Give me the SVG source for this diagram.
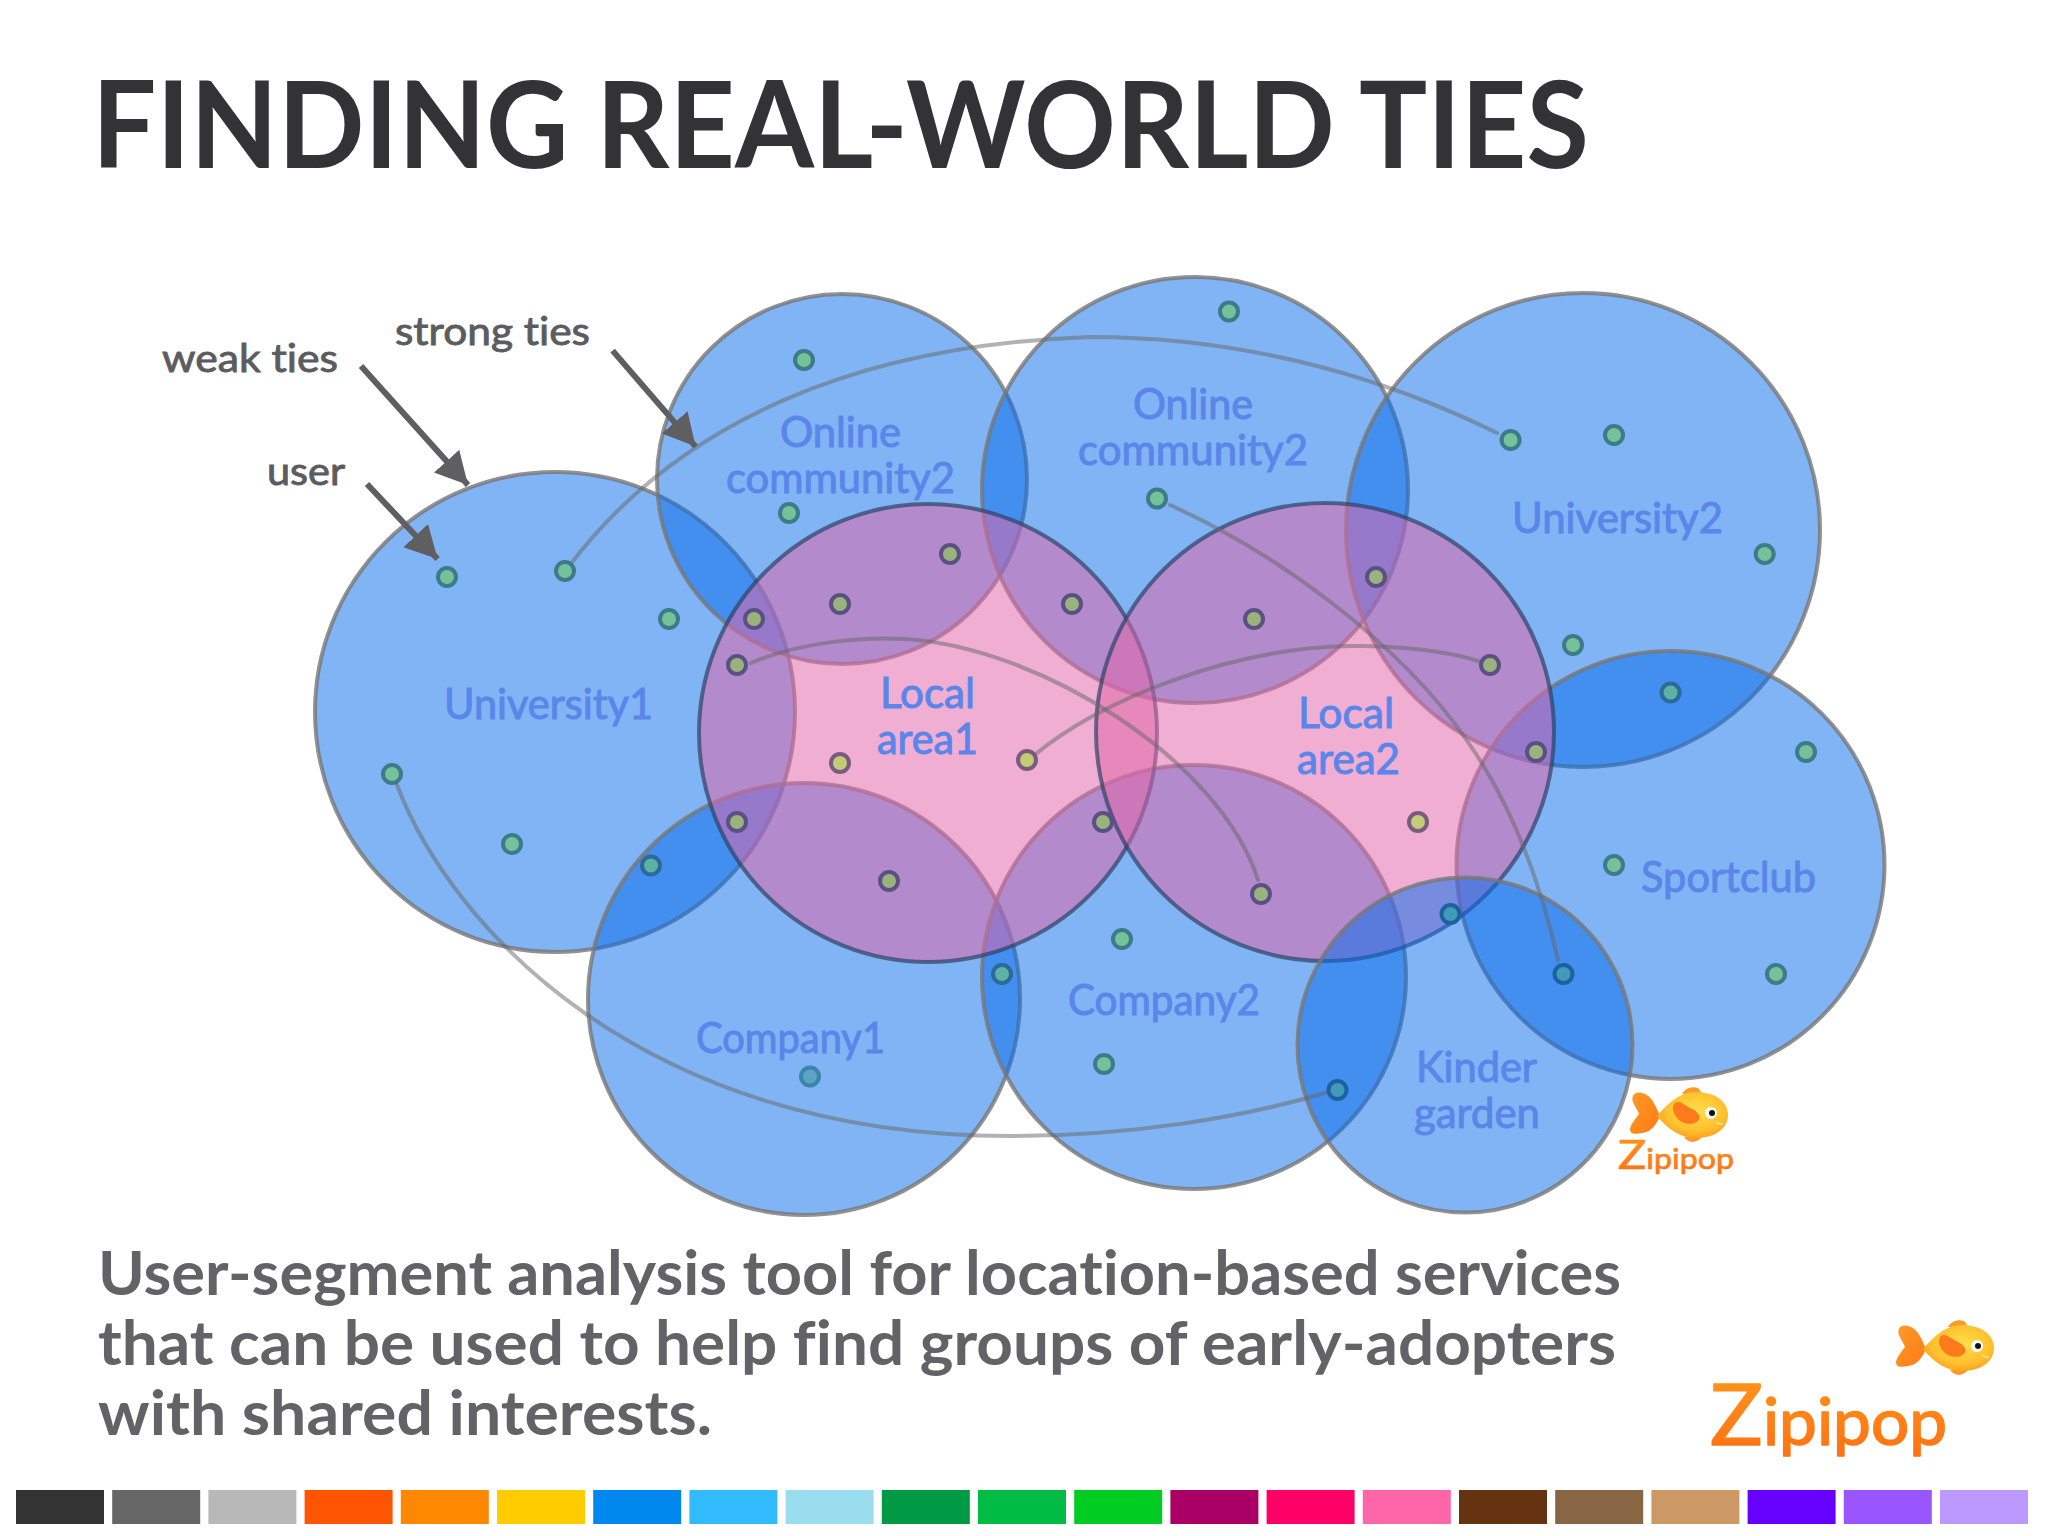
<svg xmlns="http://www.w3.org/2000/svg" width="2048" height="1536" viewBox="0 0 2048 1536">
<style>
text{font-family:"Lato","Open Sans","Liberation Sans",sans-serif;font-variant-ligatures:none}
.title{font-size:120px;font-weight:700;fill:#333336}
.body{font-size:61px;font-weight:700;fill:#636367}
.note{font-size:39px;font-weight:400;fill:#5c5c60;stroke:#5c5c60;stroke-width:.9}
.lab{font-size:42px;font-weight:400;fill:#5a86ea;stroke:#5a86ea;stroke-width:1}
.blue{fill:#066ceb;fill-opacity:.51;stroke:#777;stroke-opacity:.8;stroke-width:4}
.pink{fill:#e166aa;fill-opacity:.53;stroke:#2a4060;stroke-opacity:.68;stroke-width:4}
.tie{fill:none;stroke:#666;stroke-opacity:.5;stroke-width:4;stroke-linecap:round}
.ptr{fill:none;stroke:#5f5f62;stroke-width:6;marker-end:url(#head)}
.u{stroke-width:4}
.s{fill:#74c29a;stroke:#3d7a8a}
.d{fill:#5cb3a4;stroke:#2d6a9a}
.kd{fill:#3f9bb8;stroke:#1f60a0}
.c1{fill:#5ca3c4;stroke:#3a86aa}
.p{fill:#9ab27c;stroke:#5a5084}
.k{fill:#c2cb76;stroke:#7a5a80}
.brand{fill:url(#logoText);font-weight:400;stroke:url(#logoText);stroke-linejoin:round}
</style>
<defs>
<marker id="head" markerUnits="userSpaceOnUse" markerWidth="36" markerHeight="34" refX="32" refY="17" orient="auto">
<path d="M0 0L32 17L0 34Z" fill="#5f5f62"/>
</marker>
<linearGradient id="logoText" x1="0" y1="0" x2="0" y2="1"><stop offset="0" stop-color="#ff9a1c"/><stop offset="1" stop-color="#ff6f12"/></linearGradient>
<radialGradient id="fishBody" cx=".55" cy=".42" r=".6"><stop offset="0" stop-color="#ffe04a"/><stop offset=".7" stop-color="#ffc02e"/><stop offset="1" stop-color="#ff9f1e"/></radialGradient>
<linearGradient id="fishTail" x1="0" y1="0" x2="1" y2="1"><stop offset="0" stop-color="#ff9a28"/><stop offset="1" stop-color="#ff7a14"/></linearGradient>
<g id="fish">
<path d="M30 29C26 20 22 8 12 6C4 4 1 10 3 15C5 20 8 24 9 27C6 31 1 37 0 42C0 48 6 47 12 46C22 45 27 36 30 29Z" fill="url(#fishTail)"/>
<path d="M52 7C55 1 62-1 68 1C70 3 71 5 72 7Z" fill="#ff9a2a"/>
<path d="M54 50C58 56 66 57 72 50Z" fill="#ff9a2a"/>
<path d="M27 29C38 16 50 5 66 5C84 5 98 14 98 28C98 42 84 51 66 51C50 51 38 42 27 29Z" fill="url(#fishBody)"/>
<path d="M44 17C48 12 54 18 60 21C68 24 72 30 68 34C62 39 52 37 47 31C43 26 42 21 44 17Z" fill="#ff7a1a"/>
<circle cx="81" cy="26" r="6" fill="#fff"/><circle cx="82" cy="26" r="3" fill="#111"/>
<path d="M86 35Q90 38 93 37" fill="none" stroke="#ffe9a0" stroke-width="1.5"/>
</g>
</defs>
<rect width="2048" height="1536" fill="#fff"/>
<text class="title" x="92" y="168" textLength="1497" lengthAdjust="spacingAndGlyphs">FINDING REAL-WORLD TIES</text>

<g id="university1"><circle class="blue" cx="555" cy="712" r="240"/><text class="lab" x="444" y="719" textLength="209" lengthAdjust="spacingAndGlyphs">University1</text></g>
<g id="online-community-a"><circle class="blue" cx="842" cy="479" r="185"/><text class="lab" x="780" y="447" textLength="121" lengthAdjust="spacingAndGlyphs">Online</text><text class="lab" x="726" y="493" textLength="229" lengthAdjust="spacingAndGlyphs">community2</text></g>
<g id="online-community-b"><circle class="blue" cx="1195" cy="490" r="213"/><text class="lab" x="1133" y="419" textLength="120" lengthAdjust="spacingAndGlyphs">Online</text><text class="lab" x="1078" y="465" textLength="230" lengthAdjust="spacingAndGlyphs">community2</text></g>
<g id="university2"><circle class="blue" cx="1583" cy="530" r="237"/><text class="lab" x="1512" y="533" textLength="211" lengthAdjust="spacingAndGlyphs">University2</text></g>
<g id="company1"><circle class="blue" cx="804" cy="999" r="216"/><text class="lab" x="696" y="1053" textLength="189" lengthAdjust="spacingAndGlyphs">Company1</text></g>
<g id="company2"><circle class="blue" cx="1194" cy="977" r="212"/><text class="lab" x="1068" y="1015" textLength="192" lengthAdjust="spacingAndGlyphs">Company2</text></g>
<g id="sportclub"><circle class="blue" cx="1670.5" cy="865" r="214"/><text class="lab" x="1641" y="892" textLength="175" lengthAdjust="spacingAndGlyphs">Sportclub</text></g>
<g id="local-area1"><circle class="pink" cx="928" cy="733" r="229"/><text class="lab" x="880" y="708" textLength="95" lengthAdjust="spacingAndGlyphs">Local</text><text class="lab" x="877" y="754" textLength="101" lengthAdjust="spacingAndGlyphs">area1</text></g>
<g id="local-area2"><circle class="pink" cx="1325" cy="732" r="229"/><text class="lab" x="1298" y="728" textLength="96" lengthAdjust="spacingAndGlyphs">Local</text><text class="lab" x="1297" y="774" textLength="103" lengthAdjust="spacingAndGlyphs">area2</text></g>
<g id="kinder-garden"><circle class="blue" cx="1465" cy="1045" r="167.5"/><text class="lab" x="1416" y="1082" textLength="121" lengthAdjust="spacingAndGlyphs">Kinder</text><text class="lab" x="1414" y="1128" textLength="126" lengthAdjust="spacingAndGlyphs">garden</text></g>

<g id="connectors">
<path class="tie" d="M570 565C680 420 860 345 1090 337C1260 337 1400 385 1497 433"/>
<path class="tie" d="M397 785C450 925 640 1136 1010 1136C1130 1136 1240 1118 1325 1093"/>
<path class="tie" d="M751 663C800 642 860 637 905 639C1040 647 1220 760 1258 880"/>
<path class="tie" d="M1032 757C1100 700 1230 648 1350 646C1400 645 1450 652 1478 661"/>
<path class="tie" d="M1170 505C1270 550 1400 640 1470 745C1515 810 1542 890 1558 960"/>
<path class="ptr" d="M367 484L437.6 559"/>
<path class="ptr" d="M361 366L468 485"/>
<path class="ptr" d="M612.6 350.6L695.6 446.6"/>
</g>

<g id="users">
<g id="u01"><circle class="u s" cx="447" cy="577" r="9"/></g>
<g id="u02"><circle class="u s" cx="565" cy="571" r="9"/></g>
<g id="u03"><circle class="u s" cx="669" cy="619" r="9"/></g>
<g id="u04"><circle class="u p" cx="754" cy="619" r="9"/></g>
<g id="u05"><circle class="u p" cx="737" cy="665" r="9"/></g>
<g id="u06"><circle class="u s" cx="804" cy="360" r="9"/></g>
<g id="u07"><circle class="u s" cx="789" cy="513" r="9"/></g>
<g id="u08"><circle class="u p" cx="950" cy="554" r="9"/></g>
<g id="u09"><circle class="u p" cx="840" cy="604" r="9"/></g>
<g id="u10"><circle class="u k" cx="840" cy="763" r="9"/></g>
<g id="u11"><circle class="u s" cx="392" cy="774" r="9"/></g>
<g id="u12"><circle class="u s" cx="1229" cy="311.5" r="9"/></g>
<g id="u13"><circle class="u s" cx="1510.6" cy="440" r="9"/></g>
<g id="u14"><circle class="u s" cx="1614" cy="435" r="9"/></g>
<g id="u15"><circle class="u s" cx="1157" cy="498.5" r="9"/></g>
<g id="u16"><circle class="u s" cx="1764.7" cy="554" r="9"/></g>
<g id="u17"><circle class="u p" cx="1376" cy="577" r="9"/></g>
<g id="u18"><circle class="u p" cx="1072" cy="604" r="9"/></g>
<g id="u19"><circle class="u p" cx="1254" cy="619" r="9"/></g>
<g id="u20"><circle class="u s" cx="1573" cy="645" r="9"/></g>
<g id="u21"><circle class="u p" cx="1490" cy="665" r="9"/></g>
<g id="u22"><circle class="u d" cx="1670.6" cy="692.5" r="9"/></g>
<g id="u23"><circle class="u s" cx="1806" cy="752" r="9"/></g>
<g id="u24"><circle class="u p" cx="1536" cy="752" r="9"/></g>
<g id="u25"><circle class="u k" cx="1027" cy="760" r="9"/></g>
<g id="u26"><circle class="u s" cx="512" cy="844" r="9"/></g>
<g id="u27"><circle class="u d" cx="651" cy="865.5" r="9"/></g>
<g id="u28"><circle class="u p" cx="737" cy="822" r="9"/></g>
<g id="u29"><circle class="u p" cx="889" cy="881" r="9"/></g>
<g id="u30"><circle class="u d" cx="1002" cy="974" r="9"/></g>
<g id="u31"><circle class="u c1" cx="810" cy="1076.5" r="9"/></g>
<g id="u32"><circle class="u p" cx="1103" cy="822" r="9"/></g>
<g id="u33"><circle class="u k" cx="1418" cy="822" r="9"/></g>
<g id="u34"><circle class="u p" cx="1261" cy="894" r="9"/></g>
<g id="u35"><circle class="u s" cx="1122" cy="939" r="9"/></g>
<g id="u36"><circle class="u s" cx="1104" cy="1064" r="9"/></g>
<g id="u37"><circle class="u kd" cx="1450.5" cy="914" r="9"/></g>
<g id="u38"><circle class="u kd" cx="1563.5" cy="974" r="9"/></g>
<g id="u39"><circle class="u s" cx="1614" cy="865" r="9"/></g>
<g id="u40"><circle class="u s" cx="1776" cy="974" r="9"/></g>
<g id="u41"><circle class="u kd" cx="1337.5" cy="1090" r="9"/></g>
</g>

<g id="labels">
<text class="note" x="162" y="372" textLength="176" lengthAdjust="spacingAndGlyphs">weak ties</text>
<text class="note" x="395" y="345" textLength="195" lengthAdjust="spacingAndGlyphs">strong ties</text>
<text class="note" x="267" y="485" textLength="78" lengthAdjust="spacingAndGlyphs">user</text>
</g>

<g id="logo-small">
<use href="#fish" x="1630" y="1087"/>
<text class="brand" x="1618" y="1169" textLength="116" lengthAdjust="spacingAndGlyphs" font-size="28" stroke-width=".7"><tspan font-size="41">Z</tspan>ipipop</text>
</g>

<g id="body-text">
<text class="body" x="98" y="1295" textLength="1523" lengthAdjust="spacingAndGlyphs">User-segment analysis tool for location-based services</text>
<text class="body" x="98" y="1365" textLength="1518" lengthAdjust="spacingAndGlyphs">that can be used to help find groups of early-adopters</text>
<text class="body" x="98" y="1435" textLength="614" lengthAdjust="spacingAndGlyphs">with shared interests.</text>
</g>

<g id="logo-large">
<use href="#fish" x="1896" y="1320"/>
<text class="brand" x="1710" y="1445" textLength="237" lengthAdjust="spacingAndGlyphs" font-size="66" stroke-width="1.6"><tspan font-size="86">Z</tspan>ipipop</text>
</g>

<g id="palette">
<rect x="16" y="1490" width="88" height="34" fill="#333333"/>
<rect x="112.2" y="1490" width="88" height="34" fill="#666666"/>
<rect x="208.4" y="1490" width="88" height="34" fill="#b8b8b8"/>
<rect x="304.6" y="1490" width="88" height="34" fill="#ff5500"/>
<rect x="400.8" y="1490" width="88" height="34" fill="#ff8800"/>
<rect x="497" y="1490" width="88" height="34" fill="#ffcc00"/>
<rect x="593.2" y="1490" width="88" height="34" fill="#0088ee"/>
<rect x="689.4" y="1490" width="88" height="34" fill="#33bbff"/>
<rect x="785.6" y="1490" width="88" height="34" fill="#99ddee"/>
<rect x="881.8" y="1490" width="88" height="34" fill="#009944"/>
<rect x="978" y="1490" width="88" height="34" fill="#00bb44"/>
<rect x="1074.2" y="1490" width="88" height="34" fill="#00cc22"/>
<rect x="1170.4" y="1490" width="88" height="34" fill="#aa0066"/>
<rect x="1266.6" y="1490" width="88" height="34" fill="#ff0066"/>
<rect x="1362.8" y="1490" width="88" height="34" fill="#ff66aa"/>
<rect x="1459" y="1490" width="88" height="34" fill="#663311"/>
<rect x="1555.2" y="1490" width="88" height="34" fill="#886644"/>
<rect x="1651.4" y="1490" width="88" height="34" fill="#cc9966"/>
<rect x="1747.6" y="1490" width="88" height="34" fill="#6600ff"/>
<rect x="1843.8" y="1490" width="88" height="34" fill="#9955ff"/>
<rect x="1940" y="1490" width="88" height="34" fill="#bb99ff"/>
</g>
</svg>
